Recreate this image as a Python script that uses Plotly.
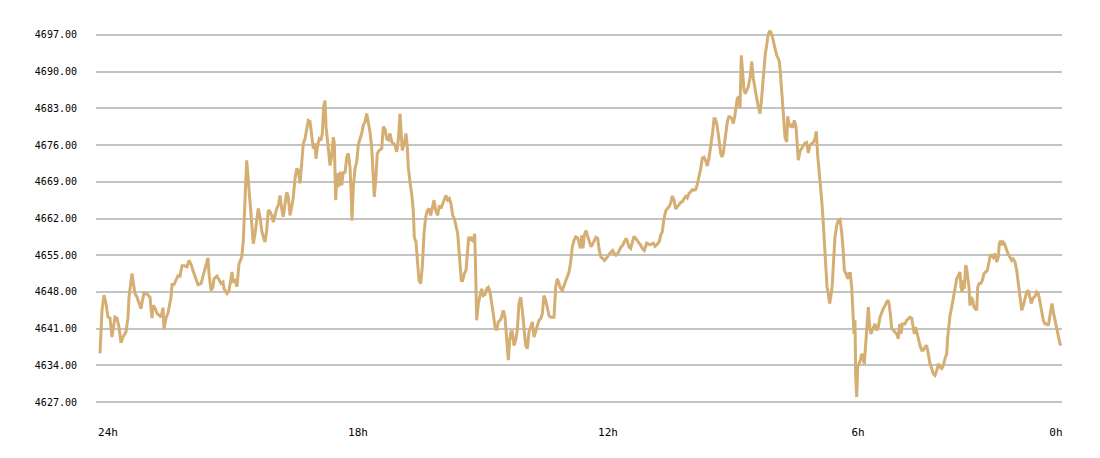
import plotly.graph_objects as go
import numpy as np

# sample time, in chart time units since the first quote (250 units = 6 hours)
t = [0, 2, 4, 6, 8, 10, 12, 15, 17, 19, 21, 23, 26, 28, 29, 32, 33, 35, 37, 39, 41, 42, 44, 47, 50, 52, 53, 55, 57, 59,
     61, 63, 64, 66, 68, 71, 72, 74, 76, 78, 80, 82, 84, 87, 89, 91, 93, 96, 98, 101, 103, 106, 108, 109, 111, 113, 114,
     117, 119, 121, 123, 124, 127, 129, 132, 133, 135, 137, 139,
     141.7, 143.3, 145, 146.7, 148.3, 150, 151.7, 153.3, 155, 156.7, 158.3, 160, 161.7, 163.3, 165, 166.7, 168.3, 170,
     171.7, 173.3, 175, 176.7, 178.3, 180, 181.7, 183.3, 185, 186.7, 188.3, 190, 191.7, 193.3, 195, 196.7, 198.3, 200,
     201.7, 203.3, 205, 206.7, 208.3, 210, 211.7, 213.3, 215, 216, 217.7, 219.3, 221, 222.3, 223.7, 225, 226, 227.3,
     228.7, 230, 231.7, 233.3, 234.3, 235.7, 237, 238.3, 240, 241.7, 243.3, 245, 246.7, 248.3, 250, 251, 252, 253.3,
     255, 256.7, 258.3, 260, 261.7, 263.3, 265, 266.7, 268.3, 270, 271.7, 273.3, 274.3,
     275.7, 277.3, 279.3, 281.7, 283.3, 285, 286.7, 288.3, 290, 291.7, 293.3, 295, 296.7, 298.3, 300, 301, 302.3, 304.3,
     306, 307.3, 308.3, 310, 311.7, 313.3, 314.3, 316, 317.3, 319, 320.7, 322.3, 324, 325.7, 327.3, 329, 330.7, 332.3,
     334, 335.7, 337.7, 339.3, 341, 342.7, 344.3, 346, 347.7, 349.3, 351, 352.7, 354.3, 356, 357.7, 359, 360, 361.3,
     362.7, 364.3, 366, 367.3, 368.7, 370, 371.7, 373.3, 374.7, 375.7, 376.7, 378.3, 380, 381.7, 383.3, 385, 386.7,
     388.3, 390, 391.7, 393.3, 395, 396.7, 398.3, 400, 401.7, 403.3, 405, 406.7, 408.3, 409.7, 411, 412.3, 414, 415.7,
     417.3, 419, 420.7, 422.3, 424, 425.7, 427.3, 429, 430.7, 432.3, 434, 435.7, 437.3, 439, 440.7, 442.3, 444, 445.7,
     447.3, 449, 450.7, 452.3, 454, 455.7, 457.3, 459, 460.7, 462.3, 464, 465.7, 467.3, 469, 470.7, 472.3, 474, 475.7,
     477.3, 479, 480.3, 481.7, 483, 484.3, 486, 487.7, 489.3, 491, 492.7, 494.3, 496, 497.7, 499.3, 501, 502.7, 504.3,
     506, 507.7, 509.3, 511, 512.7, 514.3, 516, 517.7, 519.3, 521, 522.7, 524.3, 526, 527.3, 529, 530.7, 532.3, 534,
     535.7, 537.3, 539, 540.7, 542.3, 544.3, 546.7, 550, 553.3, 555, 557.3, 559.3, 560.7, 562.3, 564, 565.7, 567.3, 569,
     570.7, 572.3, 574, 575.7, 577.3, 579, 580.7, 582.3, 584, 585.7, 587.3, 589, 590.7, 592.3, 594, 595.7, 597.3, 599,
     600.7, 602.3, 604, 605.7, 607.3, 609, 610, 611.3, 612.7, 614, 615.3, 616.7, 618, 619.3, 620.7, 622, 623.3, 624.7,
     626, 627.3, 628.7, 630, 631.7, 633.3, 634.7, 636, 637.3, 638.7, 640, 641.3, 642.7, 644, 645.3, 646.7, 648.3, 650,
     651.7, 653.3, 655, 656.7, 658.3, 660, 661.3, 662.7, 664, 665.3, 666.7, 668, 669.3, 670.7, 672, 673.3, 675, 676.7,
     678.3, 679.3, 680.3, 681.7, 683.3, 685, 686.7, 687.7, 689.3, 691, 692.7, 694.3, 696, 697, 698.3, 700, 701.7, 703.3,
     705, 706.7, 708.3, 710, 711.7, 713.3, 715, 716.3, 717.7, 719, 720.3, 721.7, 723, 724.3, 725.7, 727, 728.3, 729.7,
     731, 732.3, 733.7, 735, 736.7, 738.3, 740, 741.7, 743.3, 744.3, 746, 747.7, 749, 750.3, 751.7, 753, 754, 755,
     755.7, 756.7, 757.7, 759, 760.3, 761.7, 763, 764.3, 765.7, 767, 768.3, 769.7, 771, 772.3, 773.7, 775, 776.7, 778.3,
     780, 781.7, 783.3, 785, 786.7, 788.3, 789.3, 790.7, 791.7, 793.3, 795, 796.7, 798.3, 799.7, 801, 802.3, 803.7, 805,
     806.7, 808.3, 810, 811.7, 813.3, 814.3, 815.7, 816.7, 818.3, 820, 821.7, 823.3, 825, 826.7, 828.3, 830, 831.7,
     833.3, 835, 836.7, 838.3, 840, 841.7, 843.3, 845, 846.7, 847.7, 848.7, 850, 851.7, 853.3, 855, 856.7, 858.3, 860,
     861, 862.3, 863.3, 864.3, 865.7, 866.7, 867.7, 869, 870, 871.3, 872.7, 874, 875.3, 876.7, 877.7, 879, 880.7, 882.3,
     884, 885.7, 887.3, 889, 890.3, 891.7, 893.3, 895, 896.7, 898.3, 899.3, 900.7, 902, 903.3, 904.7, 906, 907.3, 908.7,
     910, 911.7, 913.3, 915, 916.7, 918.3, 920, 921.7, 923.3, 925, 926.7, 928.3, 930, 931.3, 932.7, 934, 935.3, 936.7,
     938.3, 940, 941.7, 943.3, 945, 946.7, 948.3, 949.3, 950.7, 952, 953.3, 955, 956.7, 958.3, 960, 961]

# price quotes
price = [4636.3, 4644.5, 4647.4, 4645.8, 4643.2, 4643.0, 4639.4, 4643.2, 4643.0, 4641.3, 4638.3, 4639.4, 4640.4, 4643.2,
         4647.0, 4651.5, 4650.2, 4647.7, 4647.0, 4645.8, 4644.8, 4646.0, 4647.8, 4647.6, 4647.0, 4643.0, 4645.4, 4645.0,
         4643.9, 4643.6, 4643.2, 4645.0, 4641.0, 4643.0, 4644.0, 4647.0, 4649.4, 4649.4, 4650.2, 4651.1, 4651.0, 4653.0,
         4653.0, 4652.8, 4654.0, 4653.3, 4652.1, 4650.6, 4649.4, 4649.6, 4651.1, 4653.4, 4654.5, 4651.5, 4648.3, 4648.9,
         4650.5, 4651.0, 4650.4, 4649.6, 4649.9, 4648.6, 4647.7, 4648.3, 4651.8, 4650.0, 4650.2, 4649.0, 4653.4,
         4654.6, 4657.8, 4667.4, 4673.1, 4669.3, 4664.8, 4661.0, 4657.2, 4659.1, 4662.3, 4663.9, 4662.3, 4659.7, 4658.5,
         4657.5, 4659.7, 4663.6, 4663.3, 4662.6, 4661.3, 4662.6, 4663.9, 4664.5, 4666.4, 4663.9, 4662.3, 4664.8, 4667.0,
         4666.1, 4662.6, 4664.2, 4666.1, 4669.6, 4671.5, 4671.2, 4668.7, 4672.5, 4676.3, 4677.2, 4679.5, 4680.7, 4680.5,
         4677.2, 4675.3, 4676.3, 4673.4, 4676.0, 4677.2, 4676.9, 4678.2, 4683.3, 4684.5, 4679.5, 4676.3, 4674.7, 4672.1,
         4674.0, 4677.5, 4676.3, 4665.5, 4670.6, 4668.0, 4670.9, 4668.3, 4670.9, 4670.6, 4673.7, 4674.4, 4671.8, 4667.4,
         4661.6, 4668.0, 4671.5, 4672.8, 4676.0, 4677.2, 4678.2, 4679.8, 4680.4, 4682.0, 4680.1, 4678.5, 4675.5, 4670.9,
         4666.1,
         4669.3, 4674.4, 4675.0, 4675.3, 4679.5, 4679.1, 4677.2, 4677.0, 4678.2, 4676.6, 4676.3, 4676.0, 4674.7, 4676.9,
         4682.0, 4679.5, 4675.0, 4676.3, 4678.2, 4675.6, 4671.8, 4668.9, 4666.7, 4663.5, 4658.4, 4657.5, 4653.4, 4650.2,
         4649.6, 4652.8, 4659.1, 4662.3, 4663.5, 4663.9, 4662.6, 4664.2, 4665.5, 4663.5, 4662.6, 4664.5, 4663.9, 4664.8,
         4665.5, 4666.4, 4665.5, 4665.8, 4664.8, 4662.6, 4662.0, 4660.7, 4659.1, 4655.9, 4652.8, 4650.2, 4650.2, 4651.5,
         4652.1, 4655.3, 4658.5, 4657.8, 4658.5, 4657.5, 4659.1, 4651.5, 4642.6, 4645.8, 4647.0, 4648.6, 4647.3, 4647.5,
         4648.6, 4648.9, 4648.0, 4646.1, 4643.8, 4641.3, 4640.7, 4642.3, 4642.6, 4643.2, 4644.5, 4643.2, 4639.4, 4635.0,
         4638.8, 4640.4, 4640.4, 4637.8, 4638.8, 4640.7, 4645.8, 4647.0, 4644.5, 4641.3, 4637.8, 4637.2, 4640.4, 4641.3,
         4642.3, 4639.4, 4640.4, 4641.6, 4642.6, 4642.9, 4643.8, 4647.3, 4646.4, 4645.0, 4643.5, 4643.2, 4643.2, 4643.2,
         4648.9, 4650.5, 4649.6, 4648.6, 4648.3, 4649.3, 4650.2, 4650.8, 4651.8, 4653.7, 4656.6, 4657.8, 4658.5, 4658.4,
         4657.5, 4656.3, 4658.8, 4656.3, 4658.8, 4659.7, 4658.5, 4657.5, 4656.6, 4657.2, 4657.8, 4658.4, 4658.2, 4655.9,
         4654.6, 4654.4, 4654.0, 4654.3, 4654.8, 4655.3, 4655.6, 4655.9, 4655.3, 4655.0, 4655.3, 4655.9, 4656.6, 4656.9,
         4657.5, 4658.2, 4657.7, 4656.6, 4656.3, 4657.2, 4658.6, 4658.2, 4657.8, 4657.5, 4656.9, 4656.3, 4655.9, 4657.3,
         4657.0, 4657.3, 4656.7, 4657.1, 4657.6, 4658.8, 4659.5, 4662.0, 4663.4, 4663.9, 4664.2, 4665.0, 4666.3, 4665.5,
         4663.8, 4664.3, 4664.6, 4665.1, 4665.2, 4665.8, 4666.2, 4665.9, 4666.8, 4667.1, 4667.5, 4667.4, 4667.5, 4668.5,
         4669.9, 4671.5, 4673.5, 4673.7, 4673.0, 4672.0, 4673.5, 4675.5, 4676.6, 4678.5, 4681.0, 4681.0, 4680.1, 4678.5,
         4676.6, 4674.4, 4673.7, 4674.4, 4676.6, 4679.1, 4680.4, 4681.4, 4681.4, 4681.1, 4680.1, 4681.4, 4683.6, 4684.9,
         4685.2, 4683.0, 4693.1, 4689.3, 4686.5, 4685.8, 4686.5, 4687.1, 4688.7, 4691.9, 4688.7, 4686.5, 4684.9, 4683.3,
         4682.0, 4684.2, 4688.0, 4691.9, 4693.4, 4695.0, 4696.9, 4697.6, 4697.6, 4696.9, 4695.7, 4694.4, 4693.1, 4692.5,
         4691.9, 4690.0, 4686.0, 4681.0, 4677.5, 4676.6, 4681.5, 4679.5, 4679.8, 4679.3, 4680.7, 4679.5, 4676.3, 4673.1,
         4674.8, 4675.4, 4676.0, 4676.4, 4676.5, 4674.5, 4676.0, 4676.3, 4676.5, 4677.2, 4678.6, 4674.0, 4671.5, 4668.5,
         4665.5, 4662.0, 4658.0, 4653.5, 4649.0, 4647.7, 4645.8, 4647.3, 4649.5, 4654.3, 4658.5, 4660.7, 4661.6, 4661.8,
         4659.4, 4655.6, 4652.1, 4651.5, 4650.5, 4651.5, 4651.5, 4648.9, 4643.2, 4640.0, 4642.6, 4631.8, 4628.0, 4633.7,
         4634.3, 4634.9, 4636.2, 4635.5, 4634.3, 4638.8, 4641.3, 4645.1, 4641.3, 4640.0, 4640.7, 4641.3, 4641.9, 4640.7,
         4641.3, 4643.2, 4644.2, 4644.8, 4645.4, 4646.1, 4646.4, 4645.4, 4643.2, 4641.0, 4640.7, 4640.4, 4640.0, 4639.1,
         4641.9, 4640.0, 4641.9, 4641.9, 4641.9, 4642.6, 4642.9, 4643.2, 4643.0, 4641.3, 4640.0, 4641.3, 4640.4, 4638.8,
         4637.8, 4636.9, 4636.9, 4637.5, 4637.8, 4636.2, 4634.3, 4633.4, 4632.4, 4632.1, 4633.0, 4634.3, 4633.7, 4633.4,
         4634.0, 4635.3, 4636.2, 4639.4, 4641.9, 4643.5, 4645.1, 4647.0, 4649.3, 4650.5, 4651.1, 4651.8, 4648.9, 4648.0,
         4650.2, 4648.6, 4653.1, 4652.5, 4650.8, 4648.9, 4645.4, 4647.0, 4646.4, 4645.1, 4644.8, 4644.5, 4648.9, 4649.6,
         4649.6, 4650.2, 4651.5, 4651.8, 4652.1, 4653.7, 4655.0, 4655.0, 4654.6, 4655.3, 4653.7, 4654.6, 4657.2, 4657.8,
         4656.9, 4657.5, 4657.2, 4656.3, 4655.6, 4655.0, 4654.6, 4654.0, 4654.3, 4653.7, 4652.1, 4649.6, 4647.7, 4644.5,
         4645.4, 4646.7, 4648.0, 4648.3, 4646.7, 4645.8, 4646.7, 4647.0, 4647.3, 4648.0, 4647.7, 4646.1, 4644.5, 4642.6,
         4641.9, 4641.9, 4641.6, 4642.6, 4644.5, 4645.8, 4644.2, 4642.6, 4641.3, 4639.7, 4638.1, 4637.8]

tick_hours = [24, 18, 12, 6, 1.25]
tick_labels = ["24h", "18h", "12h", "6h", "0h"]

n = min(len(t), len(price))
units_per_hour = 250 / 6
start_hours_ago = 24 + 8 / units_per_hour
hours_ago = start_hours_ago - np.array(t[:n], dtype=float) / units_per_hour

fig = go.Figure()
fig.add_trace(go.Scatter(
    x=hours_ago, y=price[:n], mode="lines",
    line=dict(color="#D4AE72", width=3),
    hoverinfo="skip", showlegend=False,
))

x_left = start_hours_ago + 4 / units_per_hour
x_right = start_hours_ago - 962 / units_per_hour

fig.update_layout(
    width=1100, height=458,
    margin=dict(l=88, r=46, t=19, b=56),
    paper_bgcolor="white", plot_bgcolor="white",
    font=dict(family="DejaVu Sans Mono", size=10, color="#000000"),
    xaxis=dict(
        range=[x_left, x_right],
        tickvals=tick_hours, ticktext=tick_labels,
        showgrid=False, zeroline=False, showline=False, ticks="",
        ticklabelstandoff=14,
        tickfont=dict(family="DejaVu Sans Mono", size=11, color="#000000"),
    ),
    yaxis=dict(
        range=[4625.5, 4698.5],
        tick0=4627, dtick=7, tickformat=".2f",
        showgrid=True, gridcolor="#C3C3C3", gridwidth=2,
        zeroline=False, showline=False, ticks="",
        ticklabelstandoff=18,
        tickfont=dict(family="DejaVu Sans Mono", size=10, color="#000000"),
    ),
)

fig.write_html("out.html")
